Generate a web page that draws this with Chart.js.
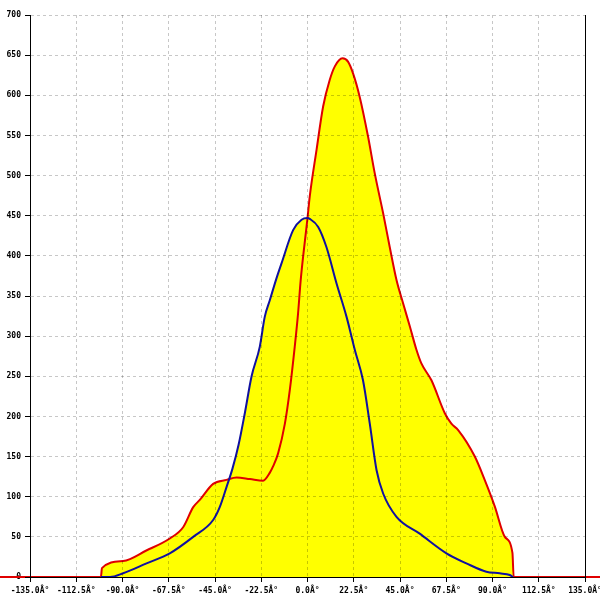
<!DOCTYPE html>
<html>
<head>
  <meta charset="UTF-8">
  <title>Angle distribution</title>
  <script src="https://cdn.jsdelivr.net/npm/chart.js"></script>
  <style>
    html, body { margin: 0; padding: 0; background: #fff; }
    #wrap { width: 600px; height: 600px; }
  </style>
</head>
<body>
  <div id="wrap"><canvas id="angleChart"></canvas></div>
  <script>
    // angle (deg) / count pairs
    const redX = [-150, -100.5, -100, -89.7, -78.4, -67, -60.5, -55.6, -52.4, -45.9, -39.4, -34.5, -28, -21.6, -18.3, -16.7, -14.3, -11, -8.6, -6.2, -4.6, -3.3, 0, 1.1, 4.4, 7.6, 10.8, 13.3, 17, 19.7, 22.2, 25.4, 29.5, 32.7, 36.8, 40, 43.3, 46.5, 49.8, 53, 55.4, 60.3, 66.8, 70, 73.3, 81.4, 86.2, 91.1, 96, 99.7, 100.3, 150];
    const redY = [0, 0, 11, 20, 33, 48, 62, 87, 96, 116, 121, 124, 122, 120, 130, 138, 154, 191, 233, 287, 328, 370, 447, 474, 532, 586, 619, 636, 646, 642, 627, 598, 548, 503, 453, 411, 370, 341, 312, 283, 266, 245, 204, 191, 183, 150, 121, 88, 50, 30, 0, 0];

    const blueX = [-100.5, -96, -89.7, -78.3, -67, -55.6, -45.9, -42.7, -39.4, -36.5, -33.5, -30.5, -27.2, -23.2, -20.8, -18.3, -15.1, -12.6, -7, -2.9, 0, 1.1, 5.2, 9.2, 14.1, 19, 23, 27, 30.3, 33.6, 36.8, 43.3, 54.6, 67.6, 77.3, 87, 93.5, 98.4, 100];
    const blueY = [0, 0, 4.6, 17, 29.5, 50, 71, 87, 112, 135, 165, 204, 250, 287, 324, 345, 372, 391, 432, 445, 447, 446, 436, 411, 366, 324, 283, 245, 191, 133, 104, 75, 54, 29.5, 17, 6.6, 4.6, 2.5, 0];

    const xTicks = [-135, -112.5, -90, -67.5, -45, -22.5, 0, 22.5, 45, 67.5, 90, 112.5, 135];

    const toPoints = (xs, ys) => xs.map((x, i) => ({ x: x, y: ys[i] }));
    const tickFont = { family: 'DejaVu Sans Mono', size: 8, weight: 'bold' };

    // black frame line on the right edge of the plot
    const rightEdge = {
      id: 'rightEdge',
      afterDraw(chart) {
        const { ctx, chartArea } = chart;
        ctx.save();
        ctx.strokeStyle = '#000';
        ctx.lineWidth = 1;
        ctx.beginPath();
        ctx.moveTo(Math.round(chartArea.right) + 0.5, chartArea.top);
        ctx.lineTo(Math.round(chartArea.right) + 0.5, chartArea.bottom);
        ctx.stroke();
        ctx.restore();
      }
    };

    new Chart(document.getElementById('angleChart'), {
      type: 'scatter',
      data: {
        datasets: [
          {
            label: 'red',
            data: toPoints(redX, redY),
            showLine: true,
            borderColor: '#e00000',
            borderWidth: 2,
            backgroundColor: '#ffff00',
            fill: 'origin',
            pointRadius: 0,
            cubicInterpolationMode: 'monotone',
            clip: false,
            order: 2
          },
          {
            label: 'blue',
            data: toPoints(blueX, blueY),
            showLine: true,
            borderColor: '#1010a0',
            borderWidth: 2,
            backgroundColor: '#ffff00',
            fill: 'origin',
            pointRadius: 0,
            cubicInterpolationMode: 'monotone',
            order: 1
          }
        ]
      },
      options: {
        responsive: true,
        maintainAspectRatio: false,
        animation: false,
        layout: { padding: { top: 15, left: 0, right: 0, bottom: 0 } },
        plugins: {
          legend: { display: false },
          tooltip: { enabled: false },
          filler: { drawTime: 'beforeDatasetsDraw' }
        },
        scales: {
          x: {
            type: 'linear',
            min: -135,
            max: 135,
            afterBuildTicks: (axis) => { axis.ticks = xTicks.map(v => ({ value: v })); },
            afterFit: (axis) => {
              axis.height = 23;
              axis.paddingLeft = 0;
              axis.paddingRight = 15;
            },
            ticks: {
              autoSkip: false,
              maxRotation: 0,
              color: '#000',
              font: tickFont,
              padding: 4,
              callback: (v) => Number(v).toFixed(1) + 'Â°'
            },
            grid: {
              z: 1,
              color: 'rgba(0,0,0,0.22)',
              tickColor: '#000',
              tickLength: 5
            },
            border: { display: true, color: '#000', width: 1, dash: [3, 3], z: 1 }
          },
          y: {
            min: 0,
            max: 700,
            afterFit: (axis) => {
              axis.width = 30;
              axis.paddingTop = 0;
              axis.paddingBottom = 0;
            },
            ticks: {
              stepSize: 50,
              color: '#000',
              font: tickFont,
              padding: 4
            },
            grid: {
              z: 1,
              color: 'rgba(0,0,0,0.22)',
              tickColor: '#000',
              tickLength: 5
            },
            border: { display: true, color: '#000', width: 1, dash: [3, 3], z: 1 }
          }
        }
      },
      plugins: [rightEdge]
    });
  </script>
</body>
</html>
